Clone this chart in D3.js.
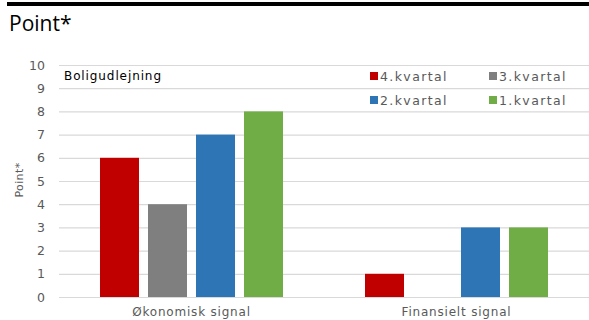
<!DOCTYPE html>
<html><head><meta charset="utf-8">
<script src="https://cdn.jsdelivr.net/npm/d3@7"></script>
<style>body{margin:0;background:#fff}svg{display:block}</style>
</head><body>
<svg id="c" width="589" height="320"></svg>
<script>
const categories = ["Økonomisk signal", "Finansielt signal"];
const seriesNames = ["4.kvartal", "3.kvartal", "2.kvartal", "1.kvartal"];
const q4 = [6, 1];
const q3 = [4, 0];
const q2 = [7, 3];
const q1 = [8, 3];
const yTicks = [0,1,2,3,4,5,6,7,8,9,10];
const colors = ["#C00000", "#7F7F7F", "#2E75B6", "#70AD47"];
const seriesValues = [q4, q3, q2, q1];

(function(){
const svg = d3.select("#c");
const font = "'DejaVu Sans', sans-serif";

svg.append("rect").attr("x",7).attr("y",2).attr("width",582).attr("height",4).attr("fill","#000");
svg.append("text").attr("x",9).attr("y",31).attr("font-family","'Open Sans', sans-serif")
  .attr("font-size",21).attr("fill","#000").text("Point*");

const pL = 59, pR = 589, pT = 65, pB = 297;
const y = d3.scaleLinear().domain([0,10]).range([pB, pT]);
const x0 = d3.scaleBand().domain(categories).range([pL, pR]).paddingInner(0).paddingOuter(0);
const x1 = d3.scaleBand().domain(seriesNames).range([41, 265-41]).paddingInner(9/48).paddingOuter(0);

const yAxis = d3.axisLeft(y).tickValues(yTicks).tickSize(-(pR-pL)).tickPadding(14);
const gy = svg.append("g").attr("transform",`translate(${pL},0)`).call(yAxis);
gy.select(".domain").remove();
gy.selectAll(".tick line").attr("stroke","#D9D9D9").attr("stroke-width",1.2);
gy.selectAll(".tick text").attr("font-family",font).attr("font-size",12.5).attr("fill","#595959");

svg.append("text").attr("transform","translate(23,180) rotate(-90)").attr("text-anchor","middle")
  .attr("font-family",font).attr("font-size",11).attr("letter-spacing",0.4).attr("fill","#595959").text("Point*");

const groups = svg.append("g").selectAll("g").data(categories).join("g")
  .attr("transform", d => `translate(${x0(d)},0)`);
groups.selectAll("rect").data((d,i) => seriesNames.map((s,j) => ({s, v: seriesValues[j][i], c: colors[j]})))
  .join("rect")
  .attr("x", d => x1(d.s)).attr("width", x1.bandwidth())
  .attr("y", d => y(d.v)).attr("height", d => pB - y(d.v))
  .attr("fill", d => d.c);

const xAxis = d3.axisBottom(x0).tickSize(0).tickPadding(10);
const gx = svg.append("g").attr("transform",`translate(0,${pB})`).call(xAxis);
gx.select(".domain").remove();
gx.selectAll(".tick text").attr("font-family",font).attr("font-size",12).attr("letter-spacing",0.8).attr("fill","#595959");

svg.append("text").attr("x",64).attr("y",80).attr("font-family",font).attr("font-size",12)
  .attr("letter-spacing",0.9).attr("fill","#000").text("Boligudlejning");

const legPos = [[370,76],[489,76],[370,100],[489,100]];
seriesNames.forEach((s,i) => {
  const [lx, ly] = legPos[i];
  svg.append("rect").attr("x",lx).attr("y",ly-4).attr("width",8).attr("height",8).attr("fill",colors[i]);
  svg.append("text").attr("x",lx+10).attr("y",ly+4.5).attr("font-family",font).attr("font-size",12.5)
    .attr("letter-spacing",1.4).attr("fill","#595959").text(s);
});
})();
</script>
</body></html>
